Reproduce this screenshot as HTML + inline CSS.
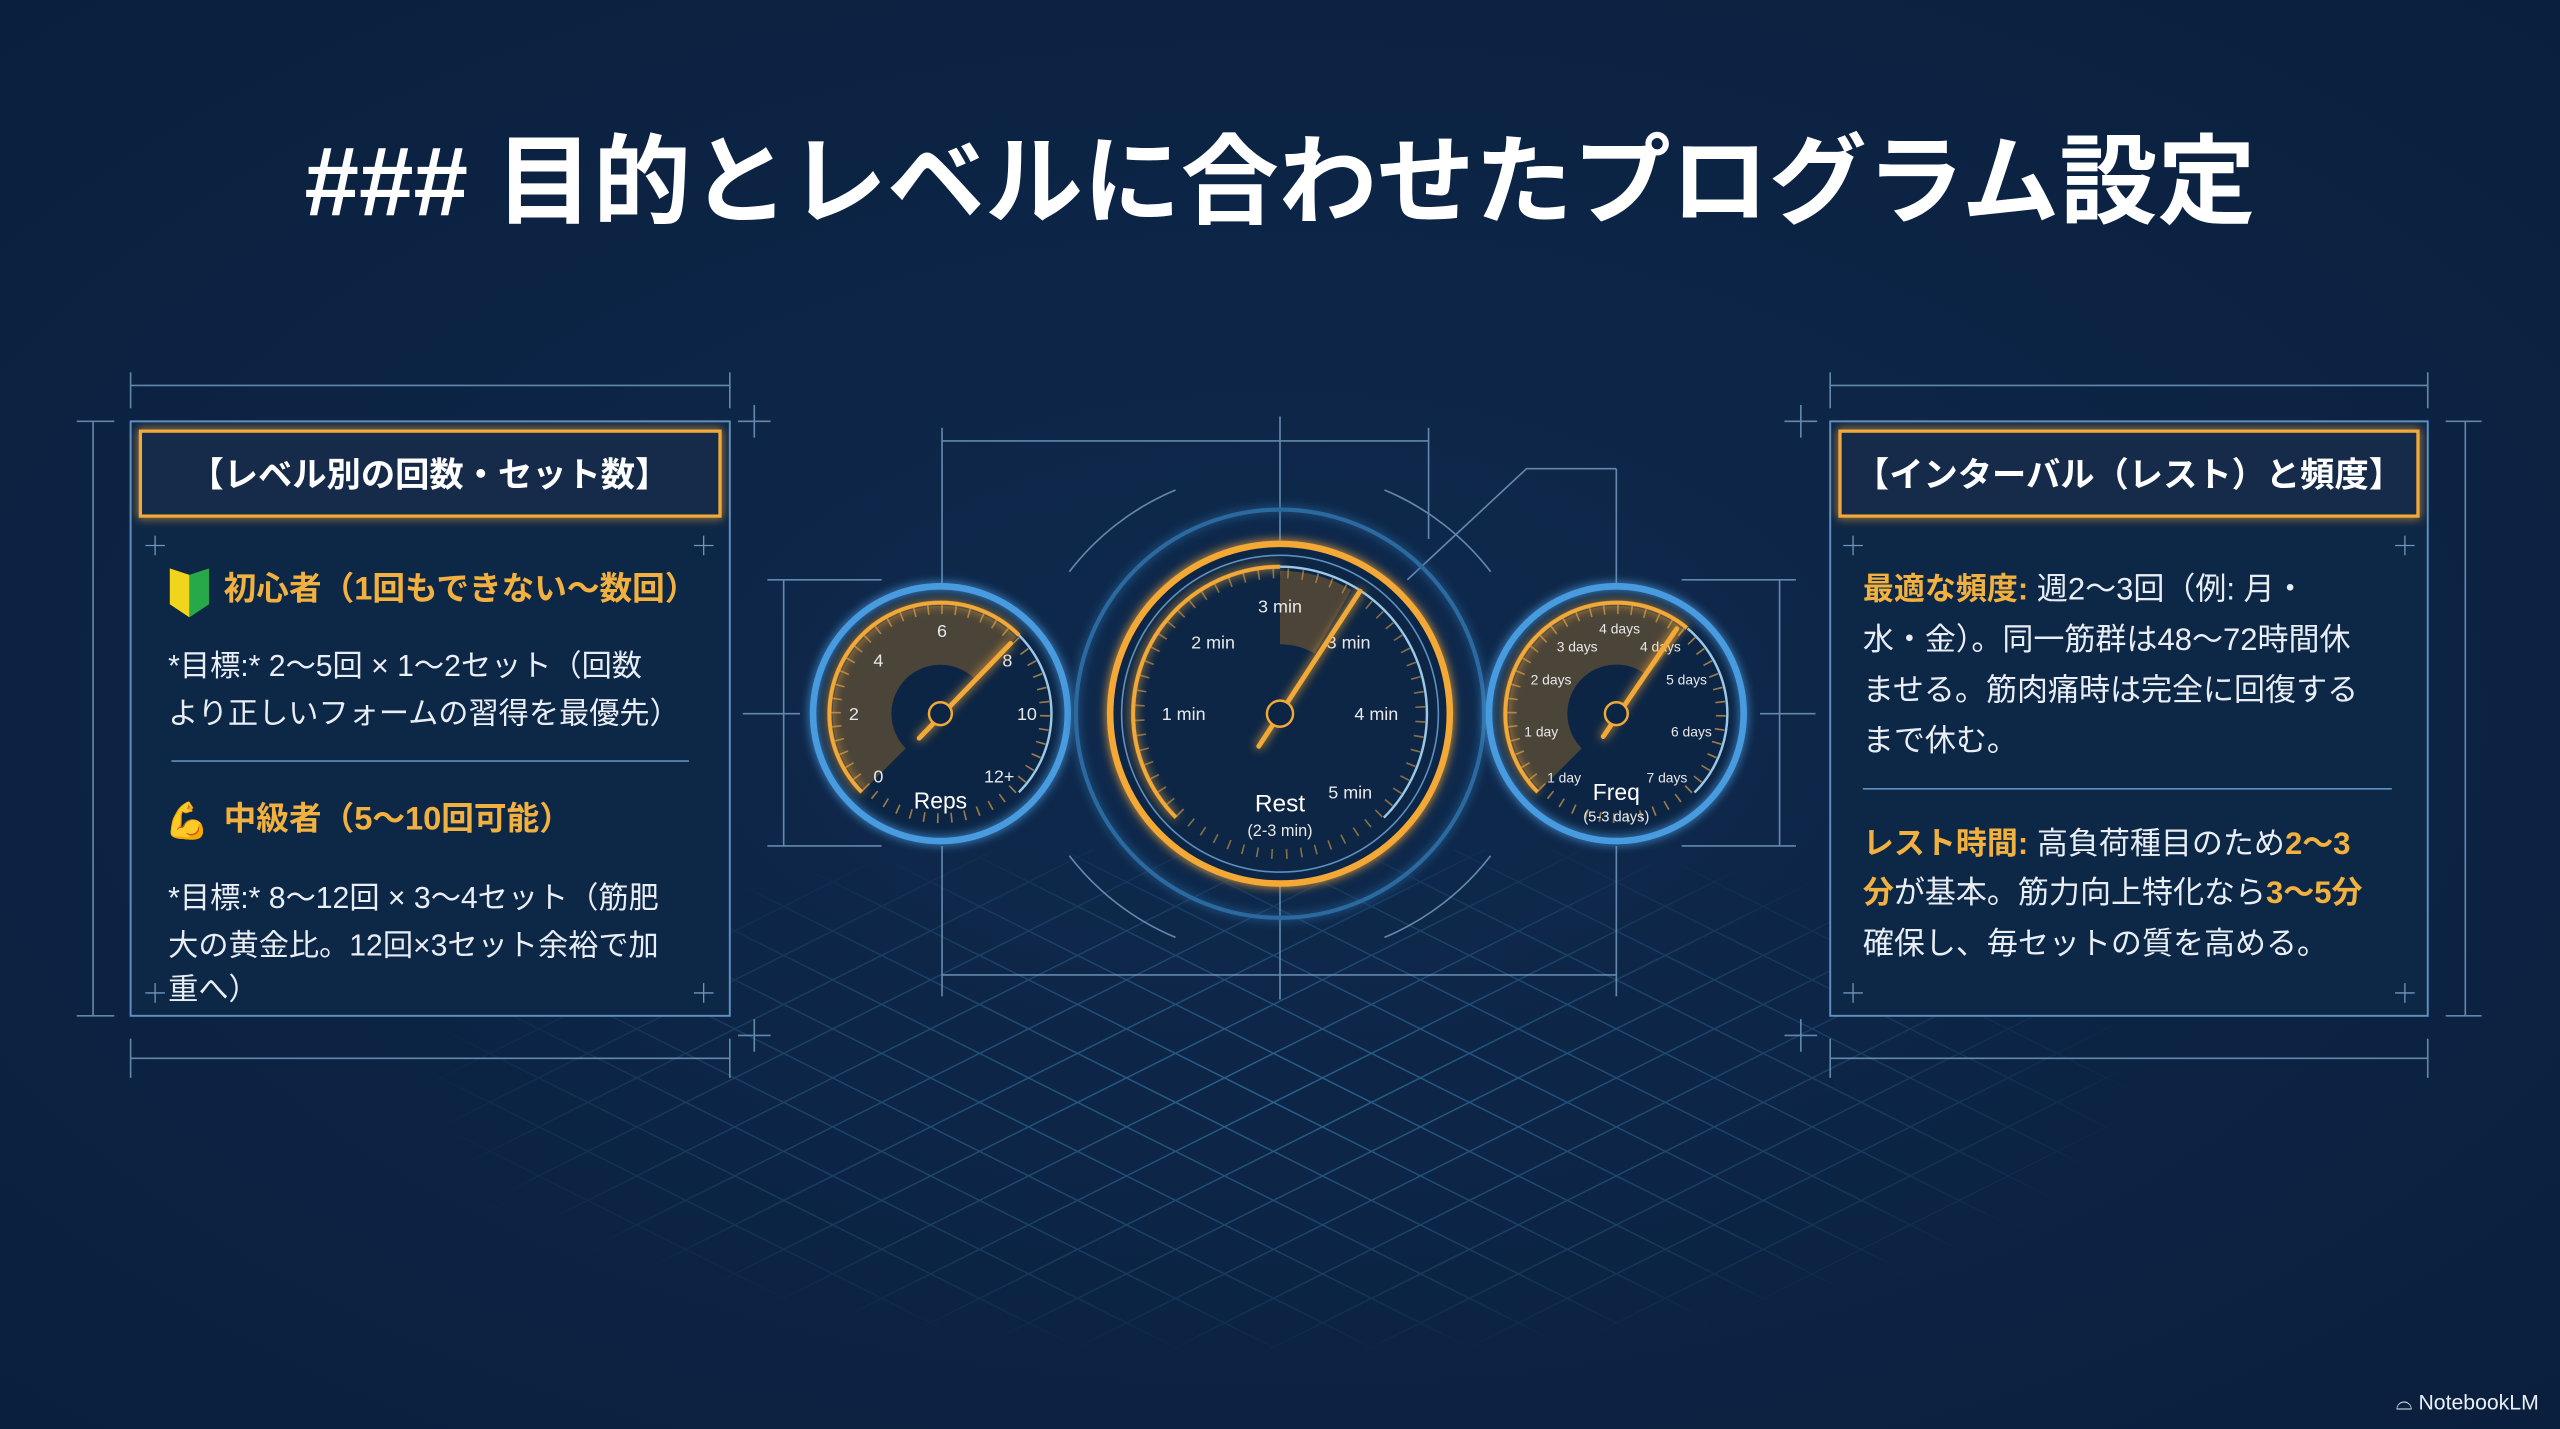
<!DOCTYPE html>
<html><head><meta charset="utf-8"><style>
html,body{margin:0;padding:0;background:#0b2142;}
svg{display:block;}
text{font-family:"Liberation Sans","Noto Sans CJK JP",sans-serif;}
</style></head><body>
<svg width="2560" height="1429" viewBox="0 0 1568 875" preserveAspectRatio="none" xmlns="http://www.w3.org/2000/svg">
<defs>
<radialGradient id="bg" cx="50%" cy="50%" r="70%">
<stop offset="0" stop-color="#0f2a4e"/><stop offset="1" stop-color="#0a1f3d"/></radialGradient>
<pattern id="dia" width="60" height="30" patternUnits="userSpaceOnUse">
<path d="M0 15 L30 0 L60 15 L30 30 Z" fill="none" stroke="#3d86b8" stroke-width="0.8"/></pattern>
<radialGradient id="fade" cx="50%" cy="45%" r="50%">
<stop offset="0" stop-color="#fff" stop-opacity="0.7"/><stop offset="0.7" stop-color="#fff" stop-opacity="0.25"/><stop offset="1" stop-color="#fff" stop-opacity="0"/></radialGradient>
<mask id="m"><rect x="250" y="520" width="1070" height="330" fill="url(#fade)"/></mask>
<filter id="glow" x="-30%" y="-30%" width="160%" height="160%"><feGaussianBlur stdDeviation="3" result="b"/><feMerge><feMergeNode in="b"/><feMergeNode in="SourceGraphic"/></feMerge></filter>
</defs>
<rect width="1568" height="875" fill="url(#bg)"/>
<rect x="250" y="520" width="1070" height="330" fill="url(#dia)" mask="url(#m)"/>

<text x="784" y="132" font-size="60" font-weight="bold" fill="#fff" text-anchor="middle">### 目的とレベルに合わせたプログラム設定</text>

<g stroke="#7fa9cf" stroke-width="1" fill="none" opacity="0.75">
<!-- left panel dims -->
<line x1="80" y1="236" x2="447" y2="236"/><line x1="80" y1="228" x2="80" y2="250"/><line x1="447" y1="228" x2="447" y2="250"/>
<line x1="80" y1="648" x2="447" y2="648"/><line x1="80" y1="636" x2="80" y2="660"/><line x1="447" y1="636" x2="447" y2="660"/>
<line x1="57" y1="258" x2="57" y2="622"/><line x1="47" y1="258" x2="70" y2="258"/><line x1="47" y1="622" x2="70" y2="622"/>
<!-- right panel dims -->
<line x1="1121" y1="236" x2="1487" y2="236"/><line x1="1121" y1="228" x2="1121" y2="250"/><line x1="1487" y1="228" x2="1487" y2="250"/>
<line x1="1121" y1="648" x2="1487" y2="648"/><line x1="1121" y1="636" x2="1121" y2="660"/><line x1="1487" y1="636" x2="1487" y2="660"/>
<line x1="1510" y1="258" x2="1510" y2="622"/><line x1="1498" y1="258" x2="1520" y2="258"/><line x1="1498" y1="622" x2="1520" y2="622"/>
<!-- crosses -->
<path d="M452 258h20M462 248v20M452 634h20M462 624v20M1093 258h20M1103 248v20M1093 634h20M1103 624v20"/>
<!-- gauge construction -->
<line x1="577" y1="262" x2="577" y2="358"/><line x1="577" y1="518" x2="577" y2="610"/>
<line x1="784" y1="255" x2="784" y2="612"/>
<line x1="875" y1="262" x2="875" y2="330"/>
<line x1="990" y1="287" x2="990" y2="358"/><line x1="990" y1="518" x2="990" y2="610"/>
<line x1="577" y1="270" x2="875" y2="270"/>
<line x1="577" y1="597" x2="990" y2="597"/>
<polyline points="862,355 935,287 990,287"/>
<line x1="470" y1="355" x2="540" y2="355"/><line x1="470" y1="518" x2="540" y2="518"/>
<line x1="480" y1="355" x2="480" y2="518"/>
<line x1="1030" y1="355" x2="1100" y2="355"/><line x1="1030" y1="518" x2="1100" y2="518"/>
<line x1="1090" y1="355" x2="1090" y2="518"/>
<line x1="455" y1="437" x2="490" y2="437"/><line x1="1078" y1="437" x2="1112" y2="437"/>
<path d="M655 350 A160 160 0 0 1 720 300M848 300 A160 160 0 0 1 913 350M655 524 A160 160 0 0 0 720 574M848 574 A160 160 0 0 0 913 524"/>
</g>

<!-- left panel -->
<rect x="80" y="258" width="367" height="364" fill="#0d2747" stroke="#5f8fbf" stroke-width="1.2"/>
<rect x="86" y="264" width="355" height="52" fill="#132c48" stroke="#f2a938" stroke-width="2" filter="url(#glow)"/>
<text x="263" y="298" font-size="21" font-weight="bold" fill="#fff" text-anchor="middle">【レベル別の回数・セット数】</text>
<g stroke="#6f96bd" stroke-width="0.8"><path d="M89 334h12M95 328v12M425 334h12M431 328v12M89 608h12M95 602v12M425 608h12M431 602v12"/></g>
<path d="M104 348 L116 352 L116 378 L104 370 Z" fill="#f1d51b"/><path d="M116 352 L128 348 L128 370 L116 378 Z" fill="#27a94a"/>
<text x="137" y="367" font-size="20" font-weight="bold" fill="#f2b13f">初心者（1回もできない〜数回）</text>
<text font-size="18.5" fill="#e9eef5"><tspan x="103" y="414">*目標:*  2〜5回 × 1〜2セット（回数</tspan><tspan x="103" y="443">より正しいフォームの習得を最優先）</tspan></text>
<line x1="105" y1="466" x2="422" y2="466" stroke="#5f8fbf" stroke-width="1"/>
<text x="101" y="510" font-size="22">💪</text>
<text x="137" y="508" font-size="20" font-weight="bold" fill="#f2b13f">中級者（5〜10回可能）</text>
<text font-size="18.5" fill="#e9eef5"><tspan x="103" y="556">*目標:*  8〜12回 × 3〜4セット（筋肥</tspan><tspan x="103" y="585">大の黄金比。12回×3セット余裕で加</tspan><tspan x="103" y="612">重へ）</tspan></text>

<!-- right panel -->
<rect x="1121" y="258" width="366" height="364" fill="#0d2747" stroke="#5f8fbf" stroke-width="1.2"/>
<rect x="1127" y="264" width="354" height="52" fill="#132c48" stroke="#f2a938" stroke-width="2" filter="url(#glow)"/>
<text x="1304" y="298" font-size="21" font-weight="bold" fill="#fff" text-anchor="middle">【インターバル（レスト）と頻度】</text>
<g stroke="#6f96bd" stroke-width="0.8"><path d="M1129 334h12M1135 328v12M1467 334h12M1473 328v12M1129 608h12M1135 602v12M1467 608h12M1473 602v12"/></g>
<text font-size="19" fill="#e9eef5">
<tspan x="1141" y="367"><tspan fill="#f2b13f" font-weight="bold">最適な頻度:</tspan> 週2〜3回（例: 月・</tspan>
<tspan x="1141" y="398">水・金）。同一筋群は48〜72時間休</tspan>
<tspan x="1141" y="429">ませる。筋肉痛時は完全に回復する</tspan>
<tspan x="1141" y="460">まで休む。</tspan>
<tspan x="1141" y="523"><tspan fill="#f2b13f" font-weight="bold">レスト時間:</tspan> 高負荷種目のため<tspan fill="#f2b13f" font-weight="bold">2〜3</tspan></tspan>
<tspan x="1141" y="553"><tspan fill="#f2b13f" font-weight="bold">分</tspan>が基本。筋力向上特化なら<tspan fill="#f2b13f" font-weight="bold">3〜5分</tspan></tspan>
<tspan x="1141" y="584">確保し、毎セットの質を高める。</tspan>
</text>
<line x1="1141" y1="483" x2="1465" y2="483" stroke="#5f8fbf" stroke-width="1"/>

<!-- left gauge -->
<g>
<circle cx="576" cy="437" r="80" fill="#0c2545"/>
<circle cx="576" cy="437" r="78" fill="none" stroke="#4a9be0" stroke-width="4" filter="url(#glow)"/>
<circle cx="576" cy="437" r="48" fill="none" stroke="#9a6a2a" stroke-opacity="0.45" stroke-width="36" stroke-dasharray="150.8 1000" transform="rotate(135 576 437)"/>
<circle cx="576" cy="437" r="68" fill="none" stroke="#f2a938" stroke-width="2.5" stroke-dasharray="213.6 1000" transform="rotate(135 576 437)" filter="url(#glow)"/>
<circle cx="576" cy="437" r="68" fill="none" stroke="#9cc8e8" stroke-width="1.5" stroke-dasharray="106.8 1000" transform="rotate(315 576 437)"/>
<circle cx="576" cy="437" r="64" fill="none" stroke="#d9a04a" stroke-width="6" stroke-dasharray="1 7.4" stroke-dashoffset="0" transform="rotate(135 576 437)" opacity="0.7"/>
<g font-size="11" fill="#e8e8e8" text-anchor="middle">
<text x="538" y="479">0</text><text x="523" y="441">2</text><text x="538" y="408">4</text><text x="577" y="390">6</text><text x="617" y="408">8</text><text x="629" y="441">10</text><text x="612" y="479">12+</text>
<text x="576" y="495" font-size="14" fill="#fff">Reps</text></g>
<line x1="563" y1="452" x2="619" y2="394" stroke="#f2a938" stroke-width="3" stroke-linecap="round" filter="url(#glow)"/>
<circle cx="576" cy="437" r="7" fill="#0c2545" stroke="#f2a938" stroke-width="1.5"/>
</g>

<!-- center gauge -->
<g>
<circle cx="784" cy="437" r="125" fill="none" stroke="#2b6aa0" stroke-width="2.5" filter="url(#glow)"/>
<circle cx="784" cy="437" r="104" fill="#0c2545" stroke="#f4a836" stroke-width="4" filter="url(#glow)"/>
<circle cx="784" cy="437" r="97" fill="none" stroke="#5b8fc0" stroke-width="1"/>
<circle cx="784" cy="437" r="65" fill="none" stroke="#9a6a2a" stroke-opacity="0.45" stroke-width="45" stroke-dasharray="34 1000" transform="rotate(270 784 437)"/>
<circle cx="784" cy="437" r="90" fill="none" stroke="#f2a938" stroke-width="2.5" stroke-dasharray="212 1000" transform="rotate(135 784 437)" filter="url(#glow)"/>
<circle cx="784" cy="437" r="90" fill="none" stroke="#9cc8e8" stroke-width="1.5" stroke-dasharray="212 1000" transform="rotate(270 784 437)"/>
<circle cx="784" cy="437" r="86" fill="none" stroke="#d9a04a" stroke-width="6" stroke-dasharray="1 8" transform="rotate(135 784 437)" opacity="0.6"/>
<g font-size="11" fill="#e8e8e8" text-anchor="middle">
<text x="784" y="375">3 min</text><text x="743" y="397">2 min</text><text x="826" y="397">3 min</text>
<text x="725" y="441">1 min</text><text x="843" y="441">4 min</text><text x="827" y="489">5 min</text>
<text x="784" y="497" font-size="15" fill="#fff">Rest</text><text x="784" y="512" font-size="10">(2-3 min)</text></g>
<line x1="771" y1="457" x2="833" y2="362" stroke="#f2a938" stroke-width="3" stroke-linecap="round" filter="url(#glow)"/>
<circle cx="784" cy="437" r="8" fill="#0c2545" stroke="#f2a938" stroke-width="1.5"/>
</g>

<!-- right gauge -->
<g>
<circle cx="990" cy="437" r="80" fill="#0c2545"/>
<circle cx="990" cy="437" r="78" fill="none" stroke="#4a9be0" stroke-width="4" filter="url(#glow)"/>
<circle cx="990" cy="437" r="48" fill="none" stroke="#9a6a2a" stroke-opacity="0.45" stroke-width="36" stroke-dasharray="146 1000" transform="rotate(135 990 437)"/>
<circle cx="990" cy="437" r="68" fill="none" stroke="#f2a938" stroke-width="2.5" stroke-dasharray="207 1000" transform="rotate(135 990 437)" filter="url(#glow)"/>
<circle cx="990" cy="437" r="68" fill="none" stroke="#9cc8e8" stroke-width="1.5" stroke-dasharray="113 1000" transform="rotate(310 990 437)"/>
<circle cx="990" cy="437" r="64" fill="none" stroke="#d9a04a" stroke-width="6" stroke-dasharray="1 7.4" transform="rotate(135 990 437)" opacity="0.7"/>
<g font-size="8.5" fill="#e8e8e8" text-anchor="middle">
<text x="944" y="451">1 day</text><text x="950" y="419">2 days</text><text x="966" y="399">3 days</text><text x="992" y="388">4 days</text>
<text x="1017" y="399">4 days</text><text x="1033" y="419">5 days</text><text x="1036" y="451">6 days</text><text x="1021" y="479">7 days</text><text x="958" y="479">1 day</text>
<text x="990" y="490" font-size="14" fill="#fff">Freq</text><text x="990" y="503" font-size="9">(5-3 days)</text></g>
<line x1="982" y1="451" x2="1027" y2="385" stroke="#f2a938" stroke-width="3" stroke-linecap="round" filter="url(#glow)"/>
<circle cx="990" cy="437" r="7" fill="#0c2545" stroke="#f2a938" stroke-width="1.5"/>
</g>

<text x="1555" y="863" font-size="13" fill="#e8eef5" text-anchor="end">⌓ NotebookLM</text>
</svg>
</body></html>
